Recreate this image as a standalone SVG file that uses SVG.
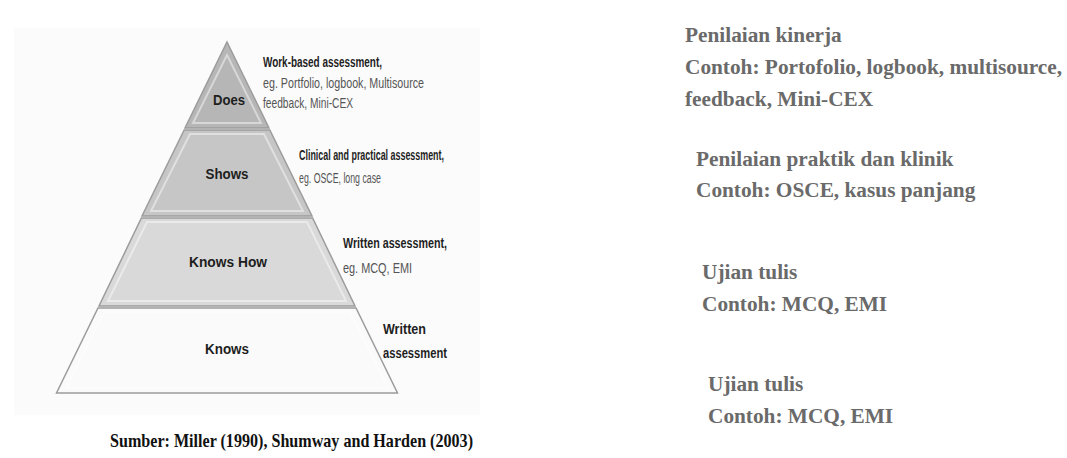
<svg xmlns="http://www.w3.org/2000/svg" width="1067" height="458" viewBox="0 0 1067 458">
<style>
.lyr{stroke:#9c9c9c;stroke-width:1.5}
.bev{fill:none;stroke:#ffffff;stroke-opacity:0.45;stroke-width:2}
.lbl{font-family:"Liberation Sans",Arial,sans-serif;font-weight:bold;font-size:14.5px;fill:#1e1e1e;text-anchor:middle}
.hd{font-family:"Liberation Sans",Arial,sans-serif;font-weight:bold;font-size:14px;fill:#1e1e1e}
.sub{font-family:"Liberation Sans",Arial,sans-serif;font-size:14px;fill:#555555}
.rt{font-family:"Liberation Serif","Times New Roman",serif;font-weight:bold;font-size:21.3px;fill:#6a6a6a}
.src{font-family:"Liberation Serif","Times New Roman",serif;font-weight:bold;font-size:19.5px;fill:#111111}
</style>
<rect x="0" y="0" width="1067" height="458" fill="#ffffff"/>
<rect x="14" y="28" width="466" height="387" fill="#fbfbfb"/>
<g id="knows">
<polygon class="lyr" points="98,308 356,308 397.5,393 56.5,393" fill="#fafafa"/>
<polygon class="bev" points="104,312 350,312 388,388 66,388" stroke="#e8e8e8"/>
<text class="lbl" x="227" y="354" textLength="44" lengthAdjust="spacingAndGlyphs">Knows</text>
</g>
<g id="knows-how">
<polygon class="lyr" points="141.4,218 312.6,218 355,306 99,306" fill="#d9d9d9"/>
<polygon class="bev" points="147,222 307,222 346,301 108,301"/>
<text class="lbl" x="228" y="267" textLength="78" lengthAdjust="spacingAndGlyphs">Knows How</text>
</g>
<g id="shows">
<polygon class="lyr" points="184.2,130 269.8,130 312,216 142,216" fill="#c6c6c6"/>
<polygon class="bev" points="190,134 264,134 303,211 151,211"/>
<text class="lbl" x="227" y="179" textLength="43" lengthAdjust="spacingAndGlyphs">Shows</text>
</g>
<g id="does">
<polygon class="lyr" points="227,42 269,128 185,128" fill="#b6b6b6"/>
<polygon class="bev" points="227,55 261,123 193,123"/>
<text class="lbl" x="229" y="105" textLength="32" lengthAdjust="spacingAndGlyphs">Does</text>
</g>
<g id="labels-left">
<text class="hd" x="263" y="67" textLength="119" lengthAdjust="spacingAndGlyphs">Work-based assessment,</text>
<text class="sub" x="263" y="88" textLength="161" lengthAdjust="spacingAndGlyphs">eg. Portfolio, logbook, Multisource</text>
<text class="sub" x="263" y="108" textLength="90" lengthAdjust="spacingAndGlyphs">feedback, Mini-CEX</text>
<text class="hd" x="299" y="160" textLength="145" lengthAdjust="spacingAndGlyphs">Clinical and practical assessment,</text>
<text class="sub" x="299" y="183" textLength="82" lengthAdjust="spacingAndGlyphs">eg. OSCE, long case</text>
<text class="hd" x="343" y="248" textLength="104" lengthAdjust="spacingAndGlyphs">Written assessment,</text>
<text class="sub" x="343" y="273" textLength="69" lengthAdjust="spacingAndGlyphs">eg. MCQ, EMI</text>
<text class="hd" x="383" y="334" textLength="43" lengthAdjust="spacingAndGlyphs">Written</text>
<text class="hd" x="383" y="358" textLength="64" lengthAdjust="spacingAndGlyphs">assessment</text>
</g>
<g id="labels-right">
<text class="rt" x="685" y="42">Penilaian kinerja</text>
<text class="rt" x="685" y="74">Contoh: Portofolio, logbook, multisource,</text>
<text class="rt" x="685" y="106">feedback, Mini-CEX</text>
<text class="rt" x="696" y="166">Penilaian praktik dan klinik</text>
<text class="rt" x="696" y="197">Contoh: OSCE, kasus panjang</text>
<text class="rt" x="702" y="279">Ujian tulis</text>
<text class="rt" x="702" y="311">Contoh: MCQ, EMI</text>
<text class="rt" x="708" y="391">Ujian tulis</text>
<text class="rt" x="708" y="423">Contoh: MCQ, EMI</text>
</g>
<text class="src" x="110" y="447" textLength="363" lengthAdjust="spacingAndGlyphs">Sumber: Miller (1990), Shumway and Harden (2003)</text>
</svg>
